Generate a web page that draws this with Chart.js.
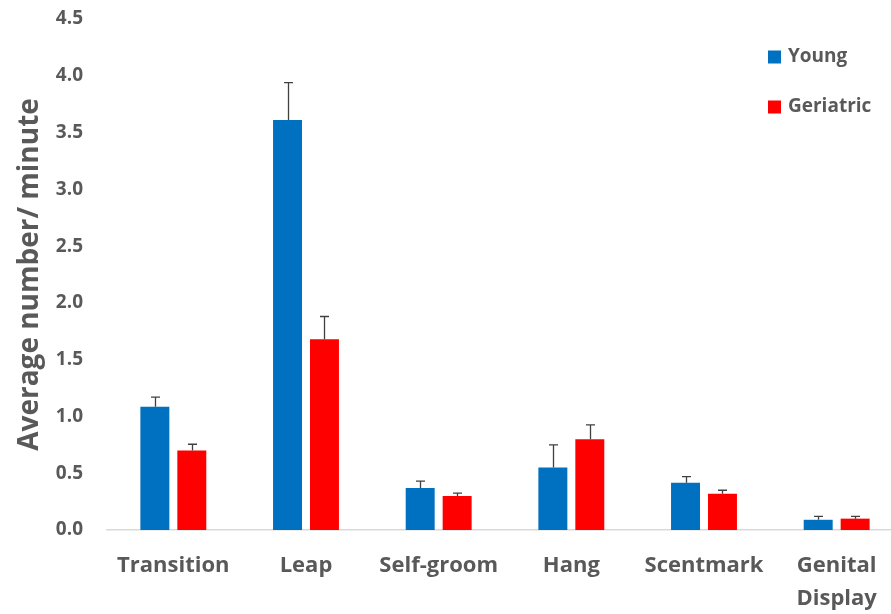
<!DOCTYPE html>
<html>
<head>
<meta charset="utf-8">
<script src="https://cdn.jsdelivr.net/npm/chart.js@4.4.0/dist/chart.umd.min.js"></script>
<style>
  html, body { margin: 0; padding: 0; background: #fff; overflow: hidden; }
  #wrap { width: 903px; height: 614px; position: relative; }
</style>
</head>
<body>
<div id="wrap"><canvas id="behaviourChart"></canvas></div>
<script>
// Data
const categories = ['Transition', 'Leap', 'Self-groom', 'Hang', 'Scentmark', ['Genital', 'Display']];
const youngMeans = [1.085, 3.61, 0.37, 0.55, 0.415, 0.09];
const youngErr = [0.085, 0.33, 0.06, 0.20, 0.055, 0.03];
const geriatricMeans = [0.70, 1.68, 0.30, 0.80, 0.32, 0.10];
const geriatricErr = [0.055, 0.20, 0.025, 0.125, 0.03, 0.02];
const yTicks = [0, 0.5, 1.0, 1.5, 2.0, 2.5, 3.0, 3.5, 4.0, 4.5];

const GREY = '#595959';
const FONT = "'Open Sans', 'Noto Sans', sans-serif";

// upper error bars, drawn through the y scale
const errorBars = {
    id: 'errorBars',
    afterDatasetsDraw(chart) {
        const { ctx, scales: { y } } = chart;
        ctx.save();
        ctx.strokeStyle = '#404040';
        ctx.lineWidth = 1.3;
        chart.data.datasets.forEach((ds, i) => {
            const meta = chart.getDatasetMeta(i);
            meta.data.forEach((bar, j) => {
                const top = y.getPixelForValue(ds.data[j] + ds.errors[j]);
                const x = Math.round(bar.x) + 0.5;
                ctx.beginPath();
                ctx.moveTo(x, bar.y);
                ctx.lineTo(x, top);
                ctx.moveTo(x - 4.5, top);
                ctx.lineTo(x + 4.5, top);
                ctx.stroke();
            });
        });
        ctx.restore();
    }
};

// vertical legend in the top right corner
const cornerLegend = {
    id: 'cornerLegend',
    afterDraw(chart) {
        const { ctx } = chart;
        ctx.save();
        ctx.font = `bold 19px ${FONT}`;
        ctx.textBaseline = 'middle';
        chart.data.datasets.forEach((ds, i) => {
            const cy = 57 + i * 50;
            ctx.fillStyle = ds.backgroundColor;
            ctx.fillRect(768, cy - 6.5, 13, 13);
            ctx.fillStyle = GREY;
            ctx.fillText(ds.label, 788, cy);
        });
        ctx.restore();
    }
};

new Chart(document.getElementById('behaviourChart'), {
    type: 'bar',
    data: {
        labels: categories,
        datasets: [
            { label: 'Young', data: youngMeans, errors: youngErr, backgroundColor: '#0070C0',
              categoryPercentage: 0.557, barPercentage: 0.784 },
            { label: 'Geriatric', data: geriatricMeans, errors: geriatricErr, backgroundColor: '#FF0000',
              categoryPercentage: 0.557, barPercentage: 0.784 }
        ]
    },
    options: {
        responsive: true,
        maintainAspectRatio: false,
        animation: false,
        layout: { padding: { top: 19, right: 0, left: 0, bottom: 0 } },
        plugins: { legend: { display: false }, tooltip: { enabled: false } },
        scales: {
            x: {
                grid: { display: false, drawTicks: false },
                border: { display: true, color: '#D9D9D9', width: 1.5 },
                ticks: { color: GREY, font: { family: FONT, size: 22, weight: 'bold', lineHeight: 1.5 }, padding: 19, maxRotation: 0, autoSkip: false },
                afterFit(scale) { scale.height = 84; }
            },
            y: {
                min: 0,
                max: 4.5,
                afterBuildTicks(scale) { scale.ticks = yTicks.map(v => ({ value: v })); },
                grid: { display: false, drawTicks: false },
                border: { display: false },
                ticks: {
                    color: GREY,
                    font: { family: FONT, size: 19, weight: 'bold' },
                    padding: 24,
                    callback: v => v.toFixed(1)
                },
                title: {
                    display: true,
                    text: 'Average number/ minute',
                    color: GREY,
                    font: { family: FONT, size: 28, weight: 'bold' },
                    padding: { top: 13, bottom: 0 }
                },
                afterFit(scale) {
                    scale.width = 107;
                    scale.paddingTop = 0;
                    scale.paddingBottom = 0;
                }
            }
        }
    },
    plugins: [errorBars, cornerLegend]
});
</script>
</body>
</html>
